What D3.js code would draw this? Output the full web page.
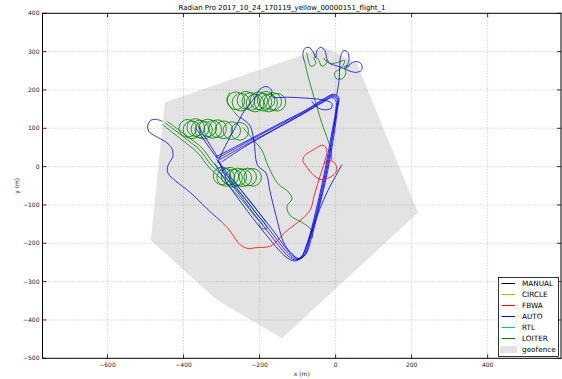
<!DOCTYPE html>
<html>
<head>
<meta charset="utf-8">
<script src="https://cdn.jsdelivr.net/npm/d3@7"></script>
<style>
  body { margin: 0; background: #fff; }
  text { font-family: "DejaVu Sans", sans-serif; }
</style>
</head>
<body>
<script>
const width = 562;
const height = 379;

const title = "Radian Pro 2017_10_24_170119_yellow_00000151_flight_1";
const xTicks = [-600, -400, -200, 0, 200, 400];
const yTicks = [-500, -400, -300, -200, -100, 0, 100, 200, 300, 400];
const modes = ["MANUAL", "CIRCLE", "FBWA", "AUTO", "RTL", "LOITER"];
const modeColors = ["#000000", "#bfbf00", "#ff0000", "#0000ff", "#00bfbf", "#008000"];

// geofence polygon (m)
const geofence = [[-449, 168], [-28, 311], [56, 269], [217, -120], [-141, -448], [-315, -346], [-486, -192]];

// AUTO legs (m)
const autoLaps = [
  [[-310, 22], [-239, 61], [-160, 103], [-81, 144], [-28, 176], [-7, 186], [6, 178], [3, 147], [-7, 82], [-23, -10], [-47, -114], [-68, -192], [-81, -231], [-99, -242], [-120, -231], [-173, -166], [-239, -83], [-291, -15], [-310, 16]],
  [[-305, 18], [-240, 55], [-160, 98], [-85, 139], [-30, 172], [-8, 183], [4, 176], [2, 148], [-9, 80], [-26, -12], [-50, -118], [-71, -195], [-85, -233], [-102, -244], [-124, -234], [-178, -170], [-243, -86], [-294, -18], [-305, 14]],
  [[-314, 26], [-236, 66], [-158, 107], [-78, 148], [-26, 180], [-5, 189], [8, 181], [5, 150], [-4, 84], [-20, -8], [-44, -110], [-64, -188], [-78, -228], [-96, -240], [-116, -229], [-168, -162], [-234, -80], [-288, -12], [-314, 20]],
  [[-300, 12], [-242, 50], [-165, 94], [-90, 135], [-33, 168], [-10, 180], [1, 172], [0, 145], [-12, 78], [-29, -14], [-53, -120], [-74, -198], [-90, -236], [-107, -246], [-130, -236], [-186, -174], [-250, -92], [-298, -24], [-318, 8]]
];
const autoHook = [[-455, 118], [-471, 123], [-486, 121], [-494, 108], [-491, 92], [-473, 79], [-449, 66], [-431, 48], [-428, 27], [-441, 3], [-441, -17], [-420, -38], [-383, -67], [-339, -109], [-299, -145]];
const autoToLoiter = [[-310, 11], [-289, 56], [-265, 100], [-239, 147], [-212, 181], [-199, 202], [-183, 209], [-168, 199], [-168, 183], [-120, 181], [-68, 178], [-28, 173], [-10, 165], [-12, 152], [-36, 149], [-54, 160], [-62, 170]];
const autoDrop = [[-252, 129], [-226, 108], [-215, 69], [-205, 3], [-183, -17], [-173, -62], [-157, -127], [-133, -205], [-102, -239]];
const autoToCorner = [
  [[-368, 100], [-349, 74], [-331, 48], [-312, 22]],
  [[-362, 106], [-344, 78], [-326, 50], [-308, 20]]
];
const autoAfterFbwa = [[17, 6], [1, -23], [-20, -62], [-41, -109], [-60, -161], [-76, -205], [-89, -234], [-104, -242]];
const autoTop = [[3, 186], [9, 225], [11, 264], [14, 290], [22, 303], [32, 298], [35, 277], [27, 256], [38, 267], [51, 274], [67, 269], [69, 253], [56, 246], [38, 249], [22, 256], [6, 262], [-15, 269], [-23, 282], [-28, 303], [-39, 311], [-49, 303], [-52, 285], [-60, 301], [-70, 311], [-81, 308], [-86, 293], [-81, 272]];

// FBWA track (m)
const fbwaTrack = [[-299, -145], [-283, -161], [-268, -182], [-252, -203], [-233, -213], [-205, -211], [-173, -208], [-152, -192], [-133, -171], [-107, -151], [-81, -130], [-65, -109], [-57, -78], [-47, -44], [-36, -10], [-28, 16], [-23, 43], [-33, 56], [-60, 43], [-81, 29], [-86, 16], [-75, -2], [-60, -20], [-41, -33], [-15, -28], [3, -10], [-2, 9], [-20, 16], [-31, 6]];

// LOITER tracks (m)
const loiterTop = [[-81, 272], [-73, 238], [-62, 199], [-49, 155], [-36, 113], [-20, 69], [-12, 43], [-10, 16]];
const loiterTopLoops = [[-76, 298], [-65, 262], [-52, 269], [-57, 285], [-47, 282], [-36, 262], [-23, 272], [-31, 282], [-15, 269], [6, 272], [24, 277], [14, 256], [-2, 246], [1, 230], [19, 230], [27, 246], [24, 262], [38, 262]];
const loiterBundle = [
  [[-449, 115], [-423, 95], [-389, 69], [-357, 43], [-326, 3], [-283, -36], [-239, -83], [-205, -127], [-186, -148], [-181, -161], [-194, -161], [-202, -148]],
  [[-455, 110], [-428, 88], [-394, 62], [-362, 35], [-331, -4], [-288, -44], [-244, -90], [-210, -132], [-190, -152]],
  [[-443, 118], [-418, 100], [-383, 74], [-351, 48], [-320, 8], [-278, -30], [-234, -78], [-200, -122], [-184, -144]]
];
const loiterLink = [[-278, 194], [-286, 173], [-270, 147], [-252, 126]];
const loiterLong = [[-244, 102], [-220, 74], [-194, 43], [-178, 3], [-152, -44], [-123, -67], [-115, -85], [-128, -103], [-120, -127], [-89, -145], [-65, -164], [-60, -187]];
const loiterCenters = [
  [-262, 172], [-249, 168], [-236, 173], [-223, 170], [-212, 166], [-202, 172], [-191, 168], [-183, 173], [-176, 166], [-165, 170], [-154, 168],
  [-389, 100], [-378, 96], [-368, 102], [-357, 98], [-347, 95], [-336, 101], [-323, 97], [-310, 99], [-294, 96], [-273, 94], [-252, 92],
  [-299, -24], [-289, -28], [-278, -25], [-268, -30], [-257, -27], [-244, -29], [-231, -27], [-218, -28]
];
const loiterRadius = 23;

const svg = d3.select("body").append("svg")
  .attr("width", width)
  .attr("height", height);

const x = d3.scaleLinear().domain([-771, 593]).range([42.5, 561]);
const y = d3.scaleLinear().domain([-500, 400]).range([358.3, 13.3]);

const plotLeft = x.range()[0], plotRight = x.range()[1];
const plotTop = y.range()[1], plotBottom = y.range()[0];

svg.append("rect")
  .attr("x", plotLeft).attr("y", plotTop)
  .attr("width", plotRight - plotLeft).attr("height", plotBottom - plotTop)
  .attr("fill", "#fff");

const clip = svg.append("clipPath").attr("id", "plot-clip")
  .append("rect")
  .attr("x", plotLeft).attr("y", plotTop)
  .attr("width", plotRight - plotLeft).attr("height", plotBottom - plotTop);

const plot = svg.append("g").attr("clip-path", "url(#plot-clip)");

// geofence
plot.append("path")
  .attr("d", d3.line().x(d => x(d[0])).y(d => y(d[1]))(geofence) + "Z")
  .attr("fill", "#e3e3e3");

// grid
const grid = plot.append("g")
  .attr("stroke", "#a8a8a8")
  .attr("stroke-width", 0.7)
  .attr("stroke-dasharray", "1,2");
grid.selectAll(".gx").data(xTicks).enter().append("line")
  .attr("x1", d => x(d)).attr("x2", d => x(d))
  .attr("y1", plotTop).attr("y2", plotBottom);
grid.selectAll(".gy").data(yTicks).enter().append("line")
  .attr("x1", plotLeft).attr("x2", plotRight)
  .attr("y1", d => y(d)).attr("y2", d => y(d));

const line = d3.line()
  .x(d => x(d[0]))
  .y(d => y(d[1]))
  .curve(d3.curveCatmullRom.alpha(0.5));

function drawTrack(track, color) {
  plot.append("path")
    .attr("d", line(track))
    .attr("fill", "none")
    .attr("stroke", color)
    .attr("stroke-width", 0.8);
}

const cBlue = modeColors[3], cRed = modeColors[2], cGreen = modeColors[5];

// loiter circles
plot.selectAll(".loiter").data(loiterCenters).enter().append("ellipse")
  .attr("cx", d => x(d[0]))
  .attr("cy", d => y(d[1]))
  .attr("rx", x(loiterRadius) - x(0))
  .attr("ry", y(0) - y(loiterRadius))
  .attr("fill", "none")
  .attr("stroke", cGreen)
  .attr("stroke-width", 0.8);

drawTrack(loiterTop, cGreen);
drawTrack(loiterTopLoops, cGreen);
loiterBundle.forEach(t => drawTrack(t, cGreen));
drawTrack(loiterLink, cGreen);
drawTrack(loiterLong, cGreen);

autoLaps.forEach(t => drawTrack(t, cBlue));
drawTrack(autoHook, cBlue);
drawTrack(autoToLoiter, cBlue);
drawTrack(autoDrop, cBlue);
autoToCorner.forEach(t => drawTrack(t, cBlue));
drawTrack(autoAfterFbwa, cBlue);
drawTrack(autoTop, cBlue);

drawTrack(fbwaTrack, cRed);

// frame and ticks
svg.append("rect")
  .attr("x", plotLeft).attr("y", plotTop)
  .attr("width", plotRight - plotLeft).attr("height", plotBottom - plotTop)
  .attr("fill", "none").attr("stroke", "#000").attr("stroke-width", 1);

const ticks = svg.append("g").attr("stroke", "#000").attr("stroke-width", 0.8);
xTicks.forEach(t => {
  ticks.append("line").attr("x1", x(t)).attr("x2", x(t)).attr("y1", plotBottom).attr("y2", plotBottom - 4);
  ticks.append("line").attr("x1", x(t)).attr("x2", x(t)).attr("y1", plotTop).attr("y2", plotTop + 4);
});
yTicks.forEach(t => {
  ticks.append("line").attr("x1", plotLeft).attr("x2", plotLeft + 4).attr("y1", y(t)).attr("y2", y(t));
  ticks.append("line").attr("x1", plotRight).attr("x2", plotRight - 4).attr("y1", y(t)).attr("y2", y(t));
});

const fmt = d => d < 0 ? "\u2212" + Math.abs(d) : String(d);

svg.append("g").selectAll("text").data(xTicks).enter().append("text")
  .attr("x", d => x(d)).attr("y", plotBottom + 9)
  .attr("text-anchor", "middle")
  .attr("font-size", 6).attr("fill", "#222")
  .text(fmt);

svg.append("g").selectAll("text").data(yTicks).enter().append("text")
  .attr("x", plotLeft - 3).attr("y", d => y(d) + 2)
  .attr("text-anchor", "end")
  .attr("font-size", 6).attr("fill", "#222")
  .text(fmt);

svg.append("text")
  .attr("x", 282).attr("y", 9.5)
  .attr("text-anchor", "middle")
  .attr("font-size", 7)
  .text(title);

svg.append("text")
  .attr("x", (plotLeft + plotRight) / 2).attr("y", 376)
  .attr("text-anchor", "middle")
  .attr("font-size", 6).attr("fill", "#222")
  .text("x (m)");

svg.append("text")
  .attr("transform", `translate(19,${(plotTop + plotBottom) / 2}) rotate(-90)`)
  .attr("text-anchor", "middle")
  .attr("font-size", 6).attr("fill", "#222")
  .text("y (m)");

// legend
const legend = svg.append("g").attr("transform", "translate(498.5,277.5)");
legend.append("rect")
  .attr("width", 60).attr("height", 79)
  .attr("fill", "#fff").attr("stroke", "#000").attr("stroke-width", 0.8);
modes.forEach((m, i) => {
  const ly = 6 + i * 11;
  legend.append("line")
    .attr("x1", 3).attr("x2", 16.5).attr("y1", ly).attr("y2", ly)
    .attr("stroke", modeColors[i]).attr("stroke-width", 1);
  legend.append("text")
    .attr("x", 23.5).attr("y", ly + 2.6)
    .attr("font-size", 7.3)
    .text(m);
});
legend.append("rect")
  .attr("x", 1.5).attr("y", 68.5).attr("width", 17).attr("height", 7)
  .attr("fill", "#e3e3e3");
legend.append("text")
  .attr("x", 23.5).attr("y", 74.6)
  .attr("font-size", 7.3)
  .text("geofence");
</script>
</body>
</html>
